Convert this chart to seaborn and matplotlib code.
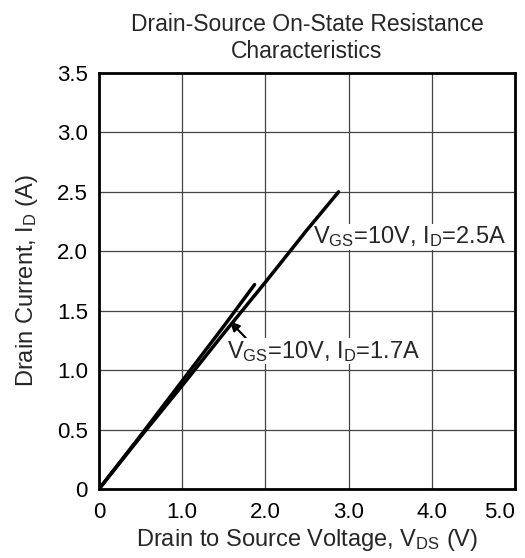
import numpy as np
import pandas as pd
import matplotlib
matplotlib.use("Agg")
import matplotlib.pyplot as plt
import seaborn as sns

sns.set_theme(style="white")
plt.rcParams['font.family'] = ['Liberation Sans', 'DejaVu Sans']
plt.rcParams['mathtext.default'] = 'regular'

# Data
vds_25 = [0.0, 0.5, 1.0, 1.5, 2.0, 2.5, 2.88]
id_25 = [0.0, 0.44, 0.87, 1.31, 1.74, 2.18, 2.5]
vds_17 = [0.0, 0.5, 1.0, 1.5, 1.87]
id_17 = [0.0, 0.45, 0.91, 1.37, 1.72]

x_ticks = [0, 1, 2, 3, 4, 5]
x_labels = ['0', '1.0', '2.0', '3.0', '4.0', '5.0']
y_ticks = [0, 0.5, 1.0, 1.5, 2.0, 2.5, 3.0, 3.5]
y_labels = ['0', '0.5', '1.0', '1.5', '2.0', '2.5', '3.0', '3.5']

df = pd.concat([
    pd.DataFrame({'vds': vds_25, 'id': id_25, 'cond': '2.5A'}),
    pd.DataFrame({'vds': vds_17, 'id': id_17, 'cond': '1.7A'}),
])

fig = plt.figure(figsize=(5.25, 5.58), dpi=100)
ax = fig.add_axes([99 / 525, 1 - 489 / 558, 416 / 525, 416 / 558])

sns.lineplot(data=df, x='vds', y='id', units='cond', estimator=None,
             color='black', linewidth=2.5, sort=False, ax=ax, legend=False)

ax.set_xlim(0, 5)
ax.set_ylim(0, 3.5)
ax.set_xticks(x_ticks)
ax.set_xticklabels(x_labels)
ax.set_yticks(y_ticks)
ax.set_yticklabels(y_labels)
ax.tick_params(axis='both', labelsize=16, length=0, colors='black')
ax.tick_params(axis='x', pad=9)
ax.tick_params(axis='y', pad=8)
ax.get_xticklabels()[-1].set_ha('right')
ax.grid(True, color='#444444', linewidth=0.9)
for s in ax.spines.values():
    s.set_color('black')
    s.set_linewidth(2)

ax.set_xlabel('Drain to Source Voltage, V$_{DS}$ (V)', fontsize=17, labelpad=3)
ax.set_ylabel('Drain Current, I$_{D}$ (A)', fontsize=17, labelpad=12)
ax.set_title('Drain-Source On-State Resistance\nCharacteristics', fontsize=16.5,
             pad=11, linespacing=1.2)

box = dict(facecolor='white', edgecolor='none', pad=0.5)
ax.text(2.57, 2.12, 'V$_{GS}$=10V, I$_{D}$=2.5A', fontsize=17, va='center', ha='left',
        bbox=box, zorder=1.8)
ax.annotate('V$_{GS}$=10V, I$_{D}$=1.7A', xy=(1.575, 1.41), xytext=(1.54, 1.16),
            fontsize=17, va='center', ha='left', bbox=box, zorder=1.8,
            arrowprops=dict(arrowstyle='-|>', color='black', lw=1.5,
                            shrinkA=0, shrinkB=0, mutation_scale=14,
                            relpos=(0.1, 1.0)))

fig.savefig('out.png', dpi=100)
